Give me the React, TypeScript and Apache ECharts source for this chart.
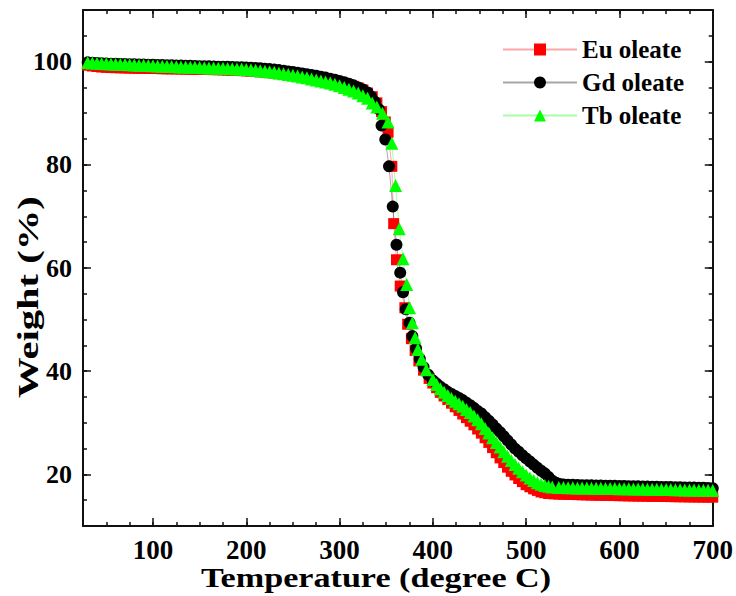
import React, { useEffect, useRef } from "react";
import * as echarts from "echarts";

const FONT = "Liberation Serif";

const xMajorTicks = [100, 200, 300, 400, 500, 600, 700];
const yMajorTicks = [20, 40, 60, 80, 100];

const seriesNames = ["Eu oleate", "Gd oleate", "Tb oleate"];

// temperatures of the plateau readings (°C), shared by the three series
const plateauTemp = [30,35,40,45,50,55,60,65,70,75,80,85,90,95,100,105,110,115,120,125,130,135,140,145,150,155,160,165,170,175,180,185,190,195,200,205,210,215,220,225,230,235,240,245,250,255,260,265,270,275,280,285,290,295,300,305,310,315,320,325,330];

// Eu oleate
const euPlateauW = [99.3,99.15,99.05,98.95,98.9,98.85,98.82,98.8,98.77,98.75,98.72,98.7,98.7,98.68,98.66,98.65,98.62,98.6,98.6,98.58,98.56,98.55,98.52,98.5,98.5,98.48,98.46,98.44,98.42,98.4,98.35,98.3,98.28,98.25,98.2,98.15,98.08,98.0,97.93,97.85,97.75,97.65,97.53,97.4,97.28,97.15,97.0,96.85,96.72,96.6,96.45,96.3,96.12,95.95,95.78,95.6,95.4,95.2,94.9,94.5,93.9];
const euDropT = [335,340,345,349,352,356,358,361,365,370,373,377,381,385,390,396,400,404,408,412,416,420,424,428,432,436,440,444,448,452,456,460,464,468,472,476,480,484,488,492,496,500,504,508,512,516,520,524];
const euDropW = [93.2,92.0,90.3,88.3,86.3,79.7,68.6,61.6,56.5,52.3,49.1,46.3,44.0,42.0,40.2,38.6,37.7,36.8,35.9,35.2,34.5,33.8,33.1,32.4,31.7,31.0,30.3,29.6,28.8,28.0,27.1,26.2,25.2,24.2,23.2,22.3,21.4,20.6,19.9,19.2,18.6,18.0,17.6,17.2,16.9,16.6,16.45,16.3];
const euTailT = [530,535,540,545,550,555,560,565,570,575,580,585,590,595,600,605,610,615,620,625,630,635,640,645,650,655,660,665,670,675,680,685,690,695,700];
const euTailW = [16.22,16.18,16.15,16.12,16.1,16.08,16.05,16.03,16.0,15.98,15.96,15.94,15.92,15.9,15.88,15.86,15.84,15.82,15.8,15.79,15.77,15.75,15.74,15.72,15.71,15.7,15.68,15.67,15.66,15.64,15.63,15.62,15.61,15.6,15.59];

// Gd oleate
const gdPlateauW = [99.85,99.8,99.75,99.7,99.65,99.6,99.58,99.55,99.52,99.5,99.48,99.45,99.42,99.4,99.38,99.35,99.32,99.3,99.28,99.25,99.22,99.2,99.18,99.15,99.12,99.1,99.08,99.05,99.02,99.0,98.98,98.95,98.92,98.9,98.85,98.8,98.75,98.7,98.62,98.55,98.45,98.35,98.22,98.1,97.98,97.85,97.7,97.55,97.4,97.25,97.08,96.9,96.7,96.5,96.25,96.0,95.7,95.4,95.0,94.6,94.0];
const gdDropT = [334,338,342,345,349,353,357,361,365,368,371,375,378,382,386,390,395,400,404,408,412,416,420,424,428,432,436,440,444,448,452,456,460,464,468,472,476,480,484,488,492,496,500,504,508,512,516,520,524,528,532,536];
const gdDropW = [93.2,92.2,90.8,87.6,84.9,79.7,71.9,64.5,59.1,55.3,52.0,49.4,46.8,44.4,42.4,40.8,39.3,38.2,37.6,37.0,36.5,36.0,35.6,35.2,34.8,34.4,33.9,33.4,32.9,32.3,31.8,31.1,30.4,29.7,28.9,28.2,27.4,26.6,25.8,25.0,24.4,23.7,23.1,22.5,21.9,21.3,20.7,20.2,19.5,18.8,18.4,18.15];
const gdTailT = [540,545,550,555,560,565,570,575,580,585,590,595,600,605,610,615,620,625,630,635,640,645,650,655,660,665,670,675,680,685,690,695,700];
const gdTailW = [18.05,18.0,17.97,17.95,17.92,17.9,17.88,17.86,17.84,17.82,17.8,17.78,17.76,17.74,17.72,17.7,17.68,17.66,17.64,17.62,17.6,17.58,17.56,17.54,17.52,17.5,17.48,17.46,17.44,17.42,17.4,17.36,17.32];

// Tb oleate
const tbPlateauW = [99.82,99.75,99.7,99.65,99.6,99.55,99.5,99.45,99.42,99.4,99.35,99.3,99.28,99.25,99.2,99.15,99.12,99.1,99.05,99.0,98.97,98.95,98.92,98.9,98.85,98.8,98.78,98.75,98.72,98.7,98.65,98.6,98.58,98.55,98.48,98.4,98.33,98.25,98.15,98.05,97.93,97.8,97.65,97.5,97.35,97.2,97.03,96.85,96.65,96.45,96.25,96.05,95.83,95.6,95.3,95.0,94.65,94.3,93.9,93.4,92.9];
const tbDropT = [335,340,346,352,356,360,364,368,372,375,378,381,384,388,393,400,404,408,412,416,420,424,428,432,436,440,444,448,452,456,460,464,468,472,476,480,484,488,492,496,500,504,508,512,516,520,524,528];
const tbDropW = [92.0,91.2,90.0,88.3,84.2,76.0,67.6,61.8,56.8,52.3,49.4,46.5,44.2,42.3,40.3,38.4,37.4,36.6,35.9,35.3,34.7,34.2,33.7,33.2,32.6,32.0,31.3,30.6,29.8,28.9,28.0,27.1,26.2,25.3,24.4,23.5,22.7,21.9,21.2,20.5,19.9,19.3,18.8,18.4,18.1,17.85,17.7,17.55];
const tbTailT = [535,540,545,550,555,560,565,570,575,580,585,590,595,600,605,610,615,620,625,630,635,640,645,650,655,660,665,670,675,680,685,690,695,700];
const tbTailW = [17.48,17.45,17.43,17.4,17.38,17.36,17.35,17.33,17.31,17.3,17.28,17.27,17.25,17.23,17.22,17.2,17.18,17.17,17.15,17.13,17.12,17.1,17.08,17.07,17.05,17.03,17.02,17.0,16.98,16.96,16.95,16.93,16.92,16.9];

const zip = (t: number[], w: number[]) => t.map((v, i) => [v, w[i]]);
const build = (pw: number[], dt: number[], dw: number[], tt: number[], tw: number[]) =>
  [...zip(plateauTemp, pw), ...zip(dt, dw), ...zip(tt, tw)];

export default function App() {
  const ref = useRef<HTMLDivElement>(null);
  useEffect(() => {
    if (!ref.current) return;
    const chart = echarts.init(ref.current, null, { renderer: "svg" });
    const axisLine = { show: true, lineStyle: { color: "#111", width: 2 } };
    const majorTick = (vals: number[]) => ({
      show: true, inside: true, length: 8, customValues: vals,
      lineStyle: { color: "#111", width: 1.5 },
    });
    const minorTick = { show: true, inside: true, length: 4, lineStyle: { color: "#111", width: 1.5 } };
    const labelStyle = { fontFamily: FONT, fontWeight: "bold" as const, color: "#000" };
    const xBase = { type: "value" as const, min: 25, max: 700, splitLine: { show: false } };
    const yBase = { type: "value" as const, min: 10, max: 110, splitLine: { show: false } };
    const mk = (name: string, color: string, symbol: string, size: number, data: number[][]) => ({
      name, type: "line" as const, data, symbol, symbolSize: size,
      itemStyle: { color }, lineStyle: { color, width: 1, opacity: 0.35 },
      xAxisIndex: 0, yAxisIndex: 0,
    });
    chart.setOption({
      animation: false,
      backgroundColor: "#fff",
      grid: { left: 83, right: 23, top: 10, bottom: 70, containLabel: false },
      xAxis: [
        { ...xBase, position: "bottom", axisLine, axisTick: majorTick(xMajorTicks),
          axisLabel: { ...labelStyle, fontSize: 27, customValues: xMajorTicks, margin: 10 } },
        { ...xBase, position: "bottom", interval: 25, axisLine: { show: false }, axisTick: minorTick, axisLabel: { show: false } },
        { ...xBase, position: "top", axisLine, axisTick: majorTick(xMajorTicks), axisLabel: { show: false } },
        { ...xBase, position: "top", interval: 25, axisLine: { show: false }, axisTick: minorTick, axisLabel: { show: false } },
      ],
      yAxis: [
        { ...yBase, position: "left", axisLine, axisTick: majorTick(yMajorTicks),
          axisLabel: { ...labelStyle, fontSize: 26, customValues: yMajorTicks, margin: 11 } },
        { ...yBase, position: "left", interval: 5, axisLine: { show: false }, axisTick: minorTick, axisLabel: { show: false } },
        { ...yBase, position: "right", axisLine, axisTick: majorTick(yMajorTicks), axisLabel: { show: false } },
        { ...yBase, position: "right", interval: 5, axisLine: { show: false }, axisTick: minorTick, axisLabel: { show: false } },
      ],
      legend: {
        orient: "vertical", left: 497, top: 32, itemWidth: 74, itemHeight: 15, itemGap: 8,
        textStyle: { fontFamily: FONT, fontWeight: "bold", fontSize: 25, color: "#000" },
        data: seriesNames,
      },
      graphic: [
        { type: "text", x: 376, y: 578, scaleX: 1.22,
          style: { text: "Temperature (degree C)", font: `bold 28px "${FONT}"`, fill: "#000", textAlign: "center", textVerticalAlign: "middle" } },
        { type: "text", x: 29, y: 297, rotation: Math.PI / 2, scaleX: 1.4,
          style: { text: "Weight (%)", font: `bold 29px "${FONT}"`, fill: "#000", textAlign: "center", textVerticalAlign: "middle" } },
      ],
      series: [
        mk(seriesNames[0], "#ff0000", "rect", 11, build(euPlateauW, euDropT, euDropW, euTailT, euTailW)),
        mk(seriesNames[1], "#000000", "circle", 12, build(gdPlateauW, gdDropT, gdDropW, gdTailT, gdTailW)),
        mk(seriesNames[2], "#00ff00", "triangle", 13, build(tbPlateauW, tbDropT, tbDropW, tbTailT, tbTailW)),
      ],
    });
    return () => chart.dispose();
  }, []);
  return <div ref={ref} style={{ position: "absolute", left: 0, top: 0, width: 736, height: 596 }} />;
}
